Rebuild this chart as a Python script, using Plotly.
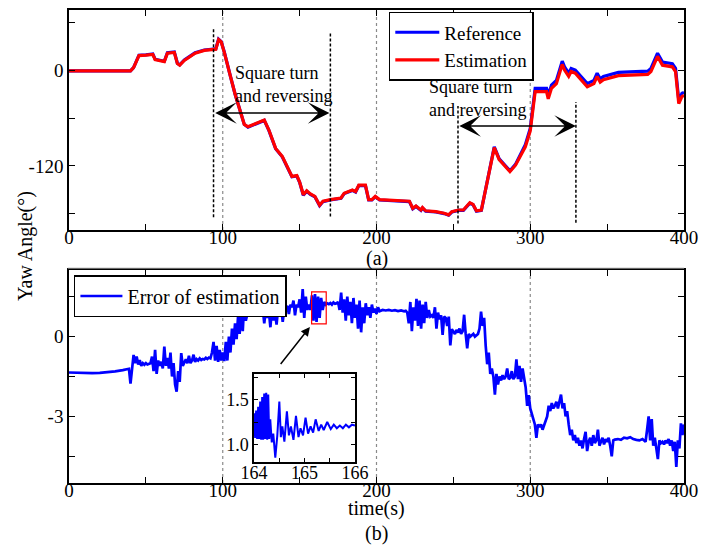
import plotly.graph_objects as go

# ---------------- data: panel (a) yaw angle ----------------
yaw_t = [0, 40, 42, 45.5, 50, 54.5, 56, 62, 64, 68.5, 70.5, 72, 75, 82, 88, 94, 95.5, 97.3, 99, 101,
         103, 105, 108, 111, 114, 116.4, 122, 127, 130, 134.4, 138.7, 142, 145, 148.2, 150, 152.4,
         154.6, 157, 159.9, 163, 165.2, 170, 176.9, 179, 184.3, 186.4, 188.5, 192.8, 194.9, 197,
         199.2, 202, 210, 221.4, 223.6, 225.7, 228.9, 229.9, 232, 238.6, 244, 246.9, 249, 253.3,
         256.5, 260.7, 262.8, 265, 268.2, 271.3, 276.6, 279.8, 284.1, 286.8, 290.4, 293.6, 296.8,
         300, 303.2, 310.6, 311.7, 313.8, 317, 320.8, 322.3, 325, 326.6, 329.3, 332.9, 337.1,
         341.4, 343.5, 345.5, 347.6, 357.3, 376.4, 378.5, 382.8, 386, 392.4, 394.5, 396.6, 398.7, 400]
yaw_est = [-1, -1, 3, 18, 18.5, 19.5, 13, 10.5, 21, 22, 8, 6, 12, 21, 24.5, 25, 26, 38, 35, 22,
           5, -8, -30, -50, -68, -71, -66, -62.5, -75, -98, -108, -120, -133, -132, -140, -156,
           -151, -155, -158, -169, -164, -162, -160, -154, -150, -152, -144, -144, -162, -162,
           -158, -162, -162.5, -164, -173, -170, -175, -172, -176, -177, -179, -181, -177, -175,
           -175, -166, -168, -176, -175, -146, -97, -112, -121, -127, -119, -108, -96,
           -76, -27, -27, -36, -23, -17, 7, 0, -8, -2, -4, -12, -21,
           -17, -8, -15, -12, -7, -5.5, -2, 17, 6, 4, -2, -42, -33, -32]
yaw_ref = [-1, -1, 3, 18.5, 19, 20, 13.5, 11, 21.5, 22.5, 8.5, 6.5, 12.5, 21.5, 25, 25.5, 26.5, 38.5, 35.5, 22.5,
           5, -8, -30, -50, -68, -71.5, -66.5, -63, -75.5, -98.5, -108.5, -120.5, -133.5, -132.5, -140.5, -156.5,
           -151.5, -155.5, -158.5, -169.5, -164.5, -162.5, -160.5, -154.5, -150.5, -152.5, -144.5, -144.5, -162.5, -162.5,
           -158.5, -162.5, -163, -164.5, -173.5, -170.5, -175.5, -172.5, -176.5, -177.5, -179.5, -181.5, -177.5, -175.5,
           -175.5, -166.5, -168.5, -176.5, -175.5, -146, -96, -111, -120, -126, -118, -106, -93.5,
           -73, -23, -23, -32, -19, -13, 11, 4, -4, 2, 0, -8, -17,
           -13, -4, -11, -8, -3, -1.5, 2, 21, 10, 8, 2, -38, -29, -28]

# ---------------- data: panel (b) estimation error ----------------
err_t = [0, 5, 10, 15, 20, 25, 30, 35, 39, 40, 41, 42, 43, 44, 45, 46, 47, 48, 49, 50,
         51, 52, 53, 54, 55, 56, 57, 58, 59, 60, 61, 62, 63, 64, 65, 66, 67, 68, 69, 70,
         71, 72, 73, 74, 75, 76, 77, 78, 79, 80, 81, 82, 83, 84, 85, 86, 87, 88, 89, 90,
         91, 92, 93, 94, 95, 96, 97, 98, 99, 100, 101, 102, 103, 104, 105, 106, 107, 108, 109, 110,
         111, 112, 113, 114, 115, 116, 117, 118, 119, 120, 121, 122, 123, 124, 125, 126, 127, 128, 129, 130,
         131, 132, 133, 134, 135, 136, 137, 138, 139, 140, 141, 142, 143, 144, 145, 146, 147, 148, 149, 150,
         151, 152, 153, 154, 155, 156, 157, 158, 159, 160, 161, 162, 163, 164, 165, 166, 167, 168, 169, 170,
         171, 172, 173, 174, 175, 176, 177, 178, 179, 180, 181, 182, 183, 184, 185, 186, 187, 188, 189, 190,
         191, 192, 193, 194, 195, 196, 197, 198, 199, 200, 201, 202, 204, 206, 208, 210, 212, 214, 216, 218,
         219, 220, 221, 222, 223, 224, 225, 226, 227, 228, 229, 230, 231, 232, 233, 234, 235, 236, 237, 238,
         239, 240, 241, 242, 243, 244, 245, 246, 247, 248, 249, 250, 251, 252, 253, 254, 255, 256, 257, 258,
         259, 260, 261, 262, 263, 264, 265, 266, 267, 268, 269, 270, 271, 272, 273, 274, 275, 276, 277, 278,
         279, 280, 281, 282, 283, 284, 285, 286, 287, 288, 289, 290, 291, 292, 293, 294, 295, 296, 297, 298,
         299, 300, 301, 302, 303, 304, 305, 306, 307, 308, 309, 310, 311, 312, 313, 314, 315, 316, 317, 318,
         319, 320, 321, 322, 323, 324, 325, 326, 327, 328, 329, 330, 331, 332, 333, 334, 335, 336, 337, 338,
         339, 340, 341, 342, 343, 344, 345, 346, 347, 348, 349, 350, 351, 352, 353, 354, 355, 357, 359, 361,
         363, 365, 367, 369, 371, 373, 375, 376, 377, 378, 379, 380, 381, 382, 383, 384, 385, 386, 387, 388,
         389, 390, 391, 392, 393, 394, 395, 396, 397, 398, 399, 400]
err_v = [-1.35, -1.36, -1.37, -1.37, -1.36, -1.34, -1.31, -1.26, -1.21, -1.77, -1.15, -0.69, -1.0, -0.75, -1.05, -0.88, -1.1, -1.0, -1.06, -1.0,
         -1.05, -1.02, -1.0, -0.75, -1.3, -0.5, -1.4, -0.9, -1.1, -0.95, -1.2, -0.38, -1.1, -0.8, -1.2, -0.6, -1.5, -1.0, -1.8, -2.07,
         -1.3, -1.7, -0.62, -1.1, -0.95, -0.85, -1.0, -0.72, -1.0, -0.9, -0.68, -0.95, -0.85, -0.9, -0.82, -0.88, -0.84, -0.86, -0.8, -0.84,
         -0.79, -0.82, -0.6, -0.2, -0.9, -0.35, -0.95, -0.5, -0.9, -0.6, -0.92, -0.2, -0.9, 0.0, -0.6, 0.3, -0.3, 0.5, -0.1, 0.8,
         0.1, 1.2, 0.2, 1.25, 0.6, 0.85, 0.8, 0.83, 0.81, 0.84, 0.82, 0.85, 0.82, 0.84, 0.83, 1.05, 0.5, 1.0, 0.7, 0.95,
         0.35, 1.1, 0.6, 0.9, 0.45, 1.05, 0.8, 1.1, 0.55, 1.0, 1.1, 1.15, 0.85, 1.2, 1.1, 1.35, 0.8, 1.2, 1.1, 1.4,
         0.9, 1.78, 0.7, 1.5, 1.0, 1.2, 1.0, 1.55, 0.6, 1.6, 0.55, 1.5, 0.7, 1.45, 1.0, 1.3, 1.2, 1.25, 1.22, 1.26,
         1.2, 1.28, 1.23, 1.25, 1.3, 1.0, 1.65, 0.9, 1.4, 0.6, 1.5, 0.8, 1.3, 0.5, 1.45, 0.7, 1.2, 0.3, 1.35, 0.16,
         1.1, 0.5, 1.25, 0.8, 1.1, 0.7, 1.2, 0.9, 1.05, 0.85, 1.1, 0.95, 1.0, 0.98, 1.0, 0.97, 0.99, 0.96, 0.98, 0.95,
         0.97, 0.9, 0.5, 1.3, 0.2, 1.1, 0.6, 1.42, 0.4, 1.35, 0.3, 1.2, 0.5, 1.3, 0.7, 1.0, 0.75, 0.8, 0.7, 1.1,
         0.3, 0.9, 0.65, 0.8, 0.06, 0.75, 0.7, 0.4, 0.75, -0.33, 0.28, 0.2, 0.1, 0.25, 0.15, 0.3, 0.1, 0.2, 0.82, 0.1,
         -0.44, 0.1, 0.0, 0.05, 0.1, 0.0, 0.05, 0.1, 0.3, 0.94, 0.4, 0.7, -0.33, -1.04, -0.6, -1.4, -1.2, -1.5, -2.18, -1.4,
         -1.8, -1.5, -1.65, -1.45, -1.6, -1.5, -1.2, -1.6, -1.55, -1.3, -1.6, -1.5, -0.86, -1.6, -1.1, -1.7, -1.2, -1.6, -1.9, -2.6,
         -2.2, -2.7, -2.9, -3.2, -3.3, -3.8, -3.3, -3.4, -3.3, -3.5, -3.35, -3.2, -3.0, -2.6, -2.8, -2.5, -2.7, -2.6, -2.45, -2.7,
         -2.4, -2.18, -2.7, -2.5, -3.0, -2.8, -3.3, -3.7, -3.5, -3.9, -3.7, -4.0, -3.8, -4.1, -3.9, -4.2, -3.85, -3.58, -4.3, -3.95,
         -3.8, -4.1, -3.7, -4.0, -3.9, -3.5, -4.1, -3.9, -3.8, -4.05, -3.85, -3.95, -3.8, -4.1, -4.5, -3.9, -3.87, -3.85, -3.88, -3.8,
         -3.82, -3.78, -3.85, -3.88, -3.9, -3.85, -3.95, -3.5, -3.0, -3.9, -3.1, -4.1, -3.8, -4.2, -4.6, -3.9, -4.0, -3.95, -4.05, -3.9,
         -4.0, -3.85, -4.1, -3.9, -4.3, -3.95, -4.9, -3.9, -4.2, -3.26, -3.7, -3.3]

# inset (zoom of 164-166 s)
ins_t = [164.00, 164.02, 164.04, 164.06, 164.08, 164.10, 164.12, 164.14, 164.16, 164.18, 164.20, 164.22,
         164.24, 164.26, 164.28, 164.30, 164.32, 164.35, 164.38, 164.42, 164.46, 164.50, 164.53, 164.56,
         164.60, 164.65, 164.69, 164.73, 164.78, 164.83, 164.88, 164.92, 164.97, 165.02, 165.07, 165.12,
         165.17, 165.22, 165.28, 165.33, 165.38, 165.45, 165.52, 165.58, 165.64, 165.70, 165.76, 165.82,
         165.88, 165.94, 166.00]
ins_v = [1.35, 1.07, 1.38, 1.06, 1.42, 1.06, 1.48, 1.05, 1.53, 1.05, 1.57, 1.06,
         1.58, 1.05, 1.56, 1.06, 1.28, 1.02, 1.12, 0.85, 1.10, 1.48, 1.08, 1.20,
         1.03, 1.37, 1.10, 1.20, 1.05, 1.32, 1.08, 1.18, 1.10, 1.30, 1.12, 1.20,
         1.13, 1.28, 1.15, 1.22, 1.16, 1.25, 1.17, 1.22, 1.18, 1.21, 1.18, 1.22,
         1.19, 1.22, 1.21]

x_ticks = [0, 50, 100, 150, 200, 250, 300, 350, 400]
x_ticktext = ['0', '', '100', '', '200', '', '300', '', '400']
ya_ticks = [-180, -120, -60, 0, 60]
ya_ticktext = ['', '-120', '', '0', '']
yb_ticks = [-4.5, -3, -1.5, 0, 1.5]
yb_ticktext = ['', '-3', '', '0', '']
ins_xticks = [164, 164.5, 165, 165.5, 166]
ins_xtext = ['164', '', '165', '', '166']
ins_yticks = [1.0, 1.25, 1.5, 1.75]
ins_ytext = ['1.0', '', '1.5', '']

guide_x = [100, 200, 300]
FONT = 'Liberation Serif'

fig = go.Figure()
fig.add_trace(go.Scatter(x=yaw_t, y=yaw_ref, mode='lines', name='Reference',
                         line=dict(color='#0000ff', width=3.2), xaxis='x', yaxis='y'))
fig.add_trace(go.Scatter(x=yaw_t, y=yaw_est, mode='lines', name='Estimation',
                         line=dict(color='#ff0000', width=3.2), xaxis='x', yaxis='y'))
fig.add_trace(go.Scatter(x=err_t, y=err_v, mode='lines', name='Error of estimation',
                         line=dict(color='#0000ff', width=2.7), xaxis='x2', yaxis='y2', legend='legend2'))
fig.add_trace(go.Scatter(x=ins_t, y=ins_v, mode='lines', showlegend=False,
                         line=dict(color='#0000ff', width=2), xaxis='x3', yaxis='y3'))


def axis_style(size=19, ticklen=6, standoff=0):
    return dict(showline=True, linecolor='black', linewidth=1.5, mirror='ticks',
                ticks='inside', ticklen=ticklen, tickwidth=1, tickcolor='black',
                showgrid=False, zeroline=False, ticklabelstandoff=standoff,
                tickfont=dict(family=FONT, size=size, color='black'))


fig.update_layout(
    width=705, height=553, autosize=False,
    margin=dict(l=69, r=8, t=10, b=70),
    paper_bgcolor='white', plot_bgcolor='white',
    xaxis=dict(domain=[0, 1], anchor='y', range=[0, 400], tickmode='array',
               tickvals=x_ticks, ticktext=x_ticktext, **axis_style(standoff=-11)),
    yaxis=dict(domain=[0.5349, 1], anchor='x', range=[-200, 75], tickmode='array',
               tickvals=ya_ticks, ticktext=ya_ticktext, **axis_style()),
    xaxis2=dict(domain=[0, 1], anchor='y2', range=[0, 400], tickmode='array',
                tickvals=x_ticks, ticktext=x_ticktext, **axis_style(standoff=-11)),
    yaxis2=dict(domain=[0, 0.4503], anchor='x2', range=[-5.5, 2.5], tickmode='array',
                tickvals=yb_ticks, ticktext=yb_ticktext, **axis_style()),
    xaxis3=dict(domain=[0.301, 0.465], anchor='y3', range=[164, 166], tickmode='array',
                tickvals=ins_xticks, ticktext=ins_xtext, **axis_style(size=18, ticklen=4, standoff=-6)),
    yaxis3=dict(domain=[0.0444, 0.2304], anchor='x3', range=[0.8, 1.79], tickmode='array',
                tickvals=ins_yticks, ticktext=ins_ytext, **axis_style(size=18, ticklen=4)),
    legend=dict(x=0.52, y=0.996, xanchor='left', yanchor='top', bgcolor='white',
                bordercolor='black', borderwidth=1.5, font=dict(family=FONT, size=19, color='black'),
                tracegroupgap=0, itemwidth=44),
    legend2=dict(x=0.008, y=0.4397, xanchor='left', yanchor='top', bgcolor='white',
                 bordercolor='black', borderwidth=1.5, font=dict(family=FONT, size=20, color='black'),
                 itemwidth=42),
    showlegend=True,
)

shapes = []
# gray dashed guides
for gx in guide_x:
    for xr, yr in (('x', 'y domain'), ('x2', 'y2 domain')):
        shapes.append(dict(type='line', xref=xr, yref=yr, x0=gx, x1=gx, y0=0, y1=1,
                           line=dict(color='#8a8a8a', width=1.2, dash='3px,3px'), layer='below'))
# black dashed markers of manoeuvre intervals
for (mx, ylo, yhi) in ((94, -184, 51), (170, -183, 46), (253, -192, -45), (329.7, -191, -40)):
    shapes.append(dict(type='line', xref='x', yref='y', x0=mx, x1=mx, y0=ylo, y1=yhi,
                       line=dict(color='black', width=1.5, dash='3px,2px')))
# red zoom box
shapes.append(dict(type='rect', xref='x2', yref='y2', x0=157.8, x1=167.3, y0=0.48, y1=1.68,
                   line=dict(color='red', width=1.2)))
# faint separator
shapes.append(dict(type='line', xref='paper', yref='paper', x0=-0.002, x1=1.0, y0=0.4545, y1=0.4545,
                   line=dict(color='#c8c8c8', width=1)))
fig.update_layout(shapes=shapes)

annotations = [
    dict(x=169.4, y=-53.75, ax=94.1, ay=-53.75, xref='x', yref='y', axref='x', ayref='y',
         showarrow=True, arrowhead=3, arrowside='end+start', arrowsize=2.4, arrowwidth=1.5,
         arrowcolor='black', text='', standoff=0, startstandoff=0),
    dict(x=329.7, y=-70, ax=252.9, ay=-70, xref='x', yref='y', axref='x', ayref='y',
         showarrow=True, arrowhead=3, arrowside='end+start', arrowsize=2.4, arrowwidth=1.5,
         arrowcolor='black', text='', standoff=0, startstandoff=0),
    dict(x=139.2, y=-18, xref='x', yref='y', text='Square turn<br>and reversing', showarrow=False,
         font=dict(family=FONT, size=18, color='black'), align='left'),
    dict(x=265.6, y=-35, xref='x', yref='y', text='Square turn<br>and reversing', showarrow=False,
         font=dict(family=FONT, size=18, color='black'), align='left'),
    dict(x=156.7, y=0.36, ax=136.9, ay=-1.09, xref='x2', yref='y2', axref='x2', ayref='y2',
         showarrow=True, arrowhead=2, arrowsize=1.2, arrowwidth=1.5, arrowcolor='black', text='',
         standoff=0),
    dict(x=0.5, y=0.4736, xref='paper', yref='paper', text='(a)', showarrow=False,
         font=dict(family=FONT, size=20, color='black')),
    dict(x=0.5, y=-0.0825, xref='paper', yref='paper', text='time(s)', showarrow=False,
         font=dict(family=FONT, size=20, color='black')),
    dict(x=0.5, y=-0.1353, xref='paper', yref='paper', text='(b)', showarrow=False,
         font=dict(family=FONT, size=20, color='black')),
    dict(x=-0.0717, y=0.501, xref='paper', yref='paper', text='Yaw Angle(°)', showarrow=False,
         xanchor='center', yanchor='middle',
         textangle=-90, font=dict(family=FONT, size=20, color='black')),
]
fig.update_layout(annotations=annotations)

fig.write_html("out.html")
